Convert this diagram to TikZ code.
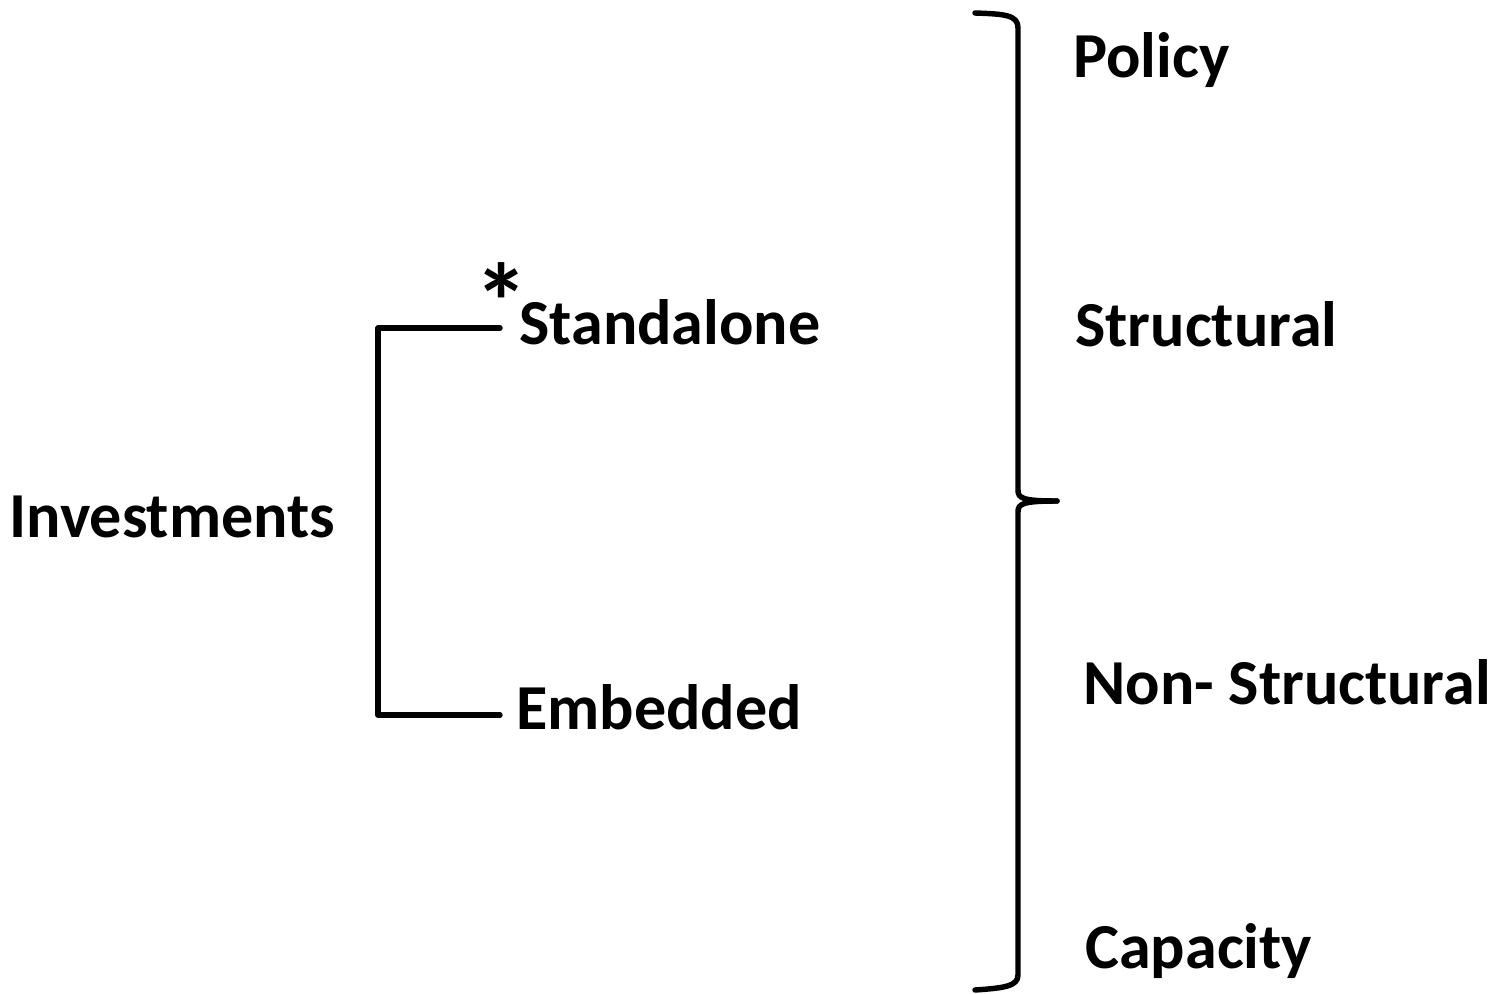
\documentclass[tikz,border=0pt]{standalone}
\usepackage{fontspec}
\setmainfont{Carlito}
\begin{document}
\begin{tikzpicture}[x=0.02cm,y=-0.02cm,
  lbl/.style={anchor=base west,inner sep=0pt,font=\fontsize{36.5pt}{44pt}\selectfont\bfseries},
  bar/.style={line width=3.1pt,line cap=round,line join=round}]

  \useasboundingbox (0,0) rectangle (1499,994);

  % Libellés
  \node[lbl] (inv)       at (9,537)    {Investments};
  \node[lbl,font=\fontsize{62pt}{62pt}\selectfont\bfseries] (star) at (474,340) {*};
  \node[lbl] (stand)     at (519,344)  {Standalone};
  \node[lbl] (emb)       at (516,729)  {Embedded};
  \node[lbl] (policy)    at (1073,77)  {Policy};
  \node[lbl] (struct)    at (1075,346) {Structural};
  \node[lbl] (nonstruct) at (1083,704) {Non- Structural};
  \node[lbl] (capacity)  at (1085,968) {Capacity};

  % Crochet
  \coordinate (brtop) at (500,328);
  \coordinate (brbot) at (500,715);
  \draw[bar] (brtop) -- (378,328) -- (378,715) -- (brbot);

  % Accolade
  \coordinate (bt)  at (975,13);
  \coordinate (tip) at (1057,501);
  \coordinate (bb)  at (975,990);
  \draw[bar] (bt) .. controls (1005,14) and (1018,15) .. (1018,28)
    -- (1018,490) .. controls (1018,498) and (1022,501) .. (tip);
  \draw[bar] (tip) .. controls (1022,501) and (1018,504) .. (1018,512)
    -- (1018,975) .. controls (1018,986) and (1005,988) .. (bb);

\end{tikzpicture}
\end{document}
